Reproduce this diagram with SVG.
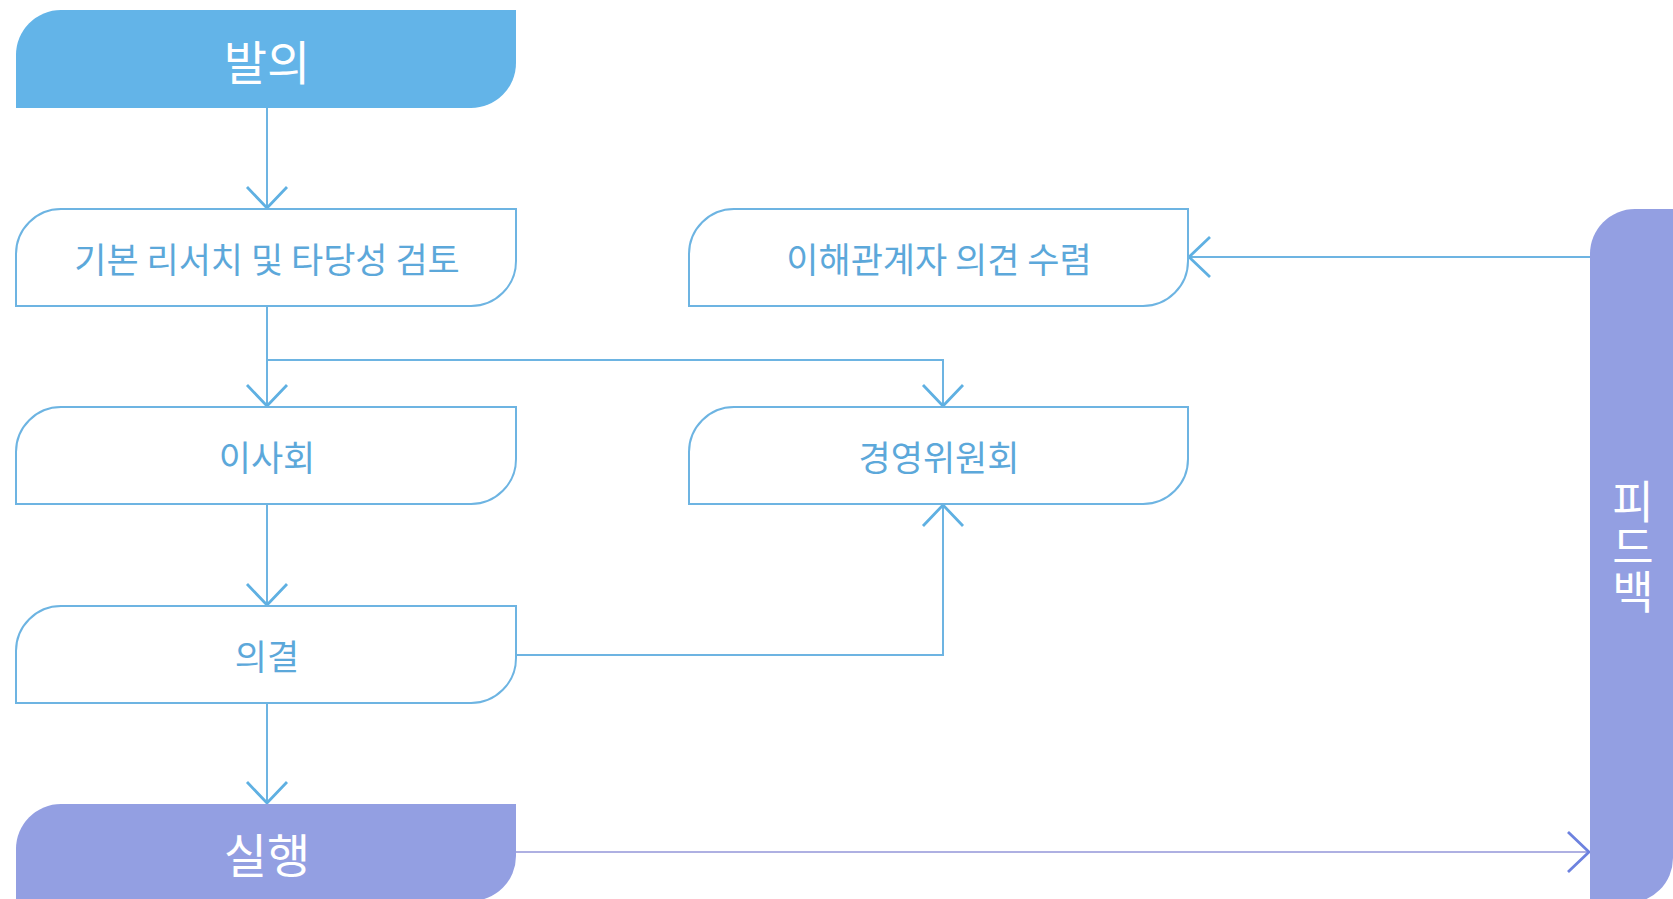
<svg xmlns="http://www.w3.org/2000/svg" width="1673" height="899" viewBox="0 0 1673 899">
  <style>
    .box { fill: #ffffff; stroke: #6db4e2; stroke-width: 2; }
    .blue { fill: #63b4e8; }
    .purple { fill: #939fe2; }
    .lbl { font-family: "Noto Sans CJK KR", "Noto Sans", sans-serif; font-size: 35px; fill: #5ca8da; text-anchor: middle; dominant-baseline: central; }
    .big { font-family: "Noto Sans CJK KR", "Noto Sans", sans-serif; font-size: 47px; fill: #ffffff; text-anchor: middle; dominant-baseline: central; }
    .vert { font-family: "Noto Sans CJK KR", "Noto Sans", sans-serif; font-size: 45px; fill: #ffffff; text-anchor: middle; writing-mode: vertical-rl; text-orientation: upright; }
    .conn { fill: none; stroke: #6db4e2; stroke-width: 2; }
    .conn2 { fill: none; stroke: #aeb0e2; stroke-width: 2; }
  </style>
  <defs>
    <marker id="arr" markerUnits="userSpaceOnUse" markerWidth="26" markerHeight="46" viewBox="-24 -23 26 46" refX="0" refY="0" orient="auto">
      <path d="M-21,-20 L0,0 L-21,20" fill="none" stroke="#5fb0e2" stroke-width="2.8"/>
    </marker>
    <marker id="arrP" markerUnits="userSpaceOnUse" markerWidth="26" markerHeight="46" viewBox="-24 -23 26 46" refX="0" refY="0" orient="auto">
      <path d="M-21,-20 L0,0 L-21,20" fill="none" stroke="#6d82df" stroke-width="2.8"/>
    </marker>
  </defs>
  <rect width="1673" height="899" fill="#ffffff"/>

  <g id="connectors">
    <path class="conn" d="M267,108 V208" marker-end="url(#arr)"/>
    <path class="conn" d="M267,306 V406" marker-end="url(#arr)"/>
    <path class="conn" d="M267,360 H943 V406" marker-end="url(#arr)"/>
    <path class="conn" d="M267,504 V605" marker-end="url(#arr)"/>
    <path class="conn" d="M267,703 V803" marker-end="url(#arr)"/>
    <path class="conn" d="M516,655 H943 V505" marker-end="url(#arr)"/>
    <path class="conn" d="M1590,257 H1189" marker-end="url(#arr)"/>
    <path class="conn2" d="M516,852 H1589" marker-end="url(#arrP)"/>
  </g>

  <g id="node-proposal">
    <path class="blue" d="M61,10 H516 V63 A45 45 0 0 1 471,108 H16 V55 A45 45 0 0 1 61,10 Z"/>
    <text class="big" x="267" y="59">발의</text>
  </g>
  <g id="node-research">
    <path class="box" d="M61,209 H516 V261 A45 45 0 0 1 471,306 H16 V254 A45 45 0 0 1 61,209 Z"/>
    <text class="lbl" x="267" y="257">기본 리서치 및 타당성 검토</text>
  </g>
  <g id="node-board">
    <path class="box" d="M61,407 H516 V459 A45 45 0 0 1 471,504 H16 V452 A45 45 0 0 1 61,407 Z"/>
    <text class="lbl" x="267" y="455">이사회</text>
  </g>
  <g id="node-resolution">
    <path class="box" d="M61,606 H516 V658 A45 45 0 0 1 471,703 H16 V651 A45 45 0 0 1 61,606 Z"/>
    <text class="lbl" x="267" y="654">의결</text>
  </g>
  <g id="node-execution">
    <path class="purple" d="M61,804 H516 V856 A45 45 0 0 1 471,901 H16 V849 A45 45 0 0 1 61,804 Z"/>
    <text class="big" x="267" y="852">실행</text>
  </g>
  <g id="node-stakeholders">
    <path class="box" d="M734,209 H1188 V261 A45 45 0 0 1 1143,306 H689 V254 A45 45 0 0 1 734,209 Z"/>
    <text class="lbl" x="939" y="257">이해관계자 의견 수렴</text>
  </g>
  <g id="node-committee">
    <path class="box" d="M734,407 H1188 V459 A45 45 0 0 1 1143,504 H689 V452 A45 45 0 0 1 734,407 Z"/>
    <text class="lbl" x="939" y="455">경영위원회</text>
  </g>
  <g id="node-feedback">
    <path class="purple" d="M1635,209 H1673 V858 A45 45 0 0 1 1628,903 H1590 V254 A45 45 0 0 1 1635,209 Z"/>
    <text class="vert" x="1633" y="547">피드백</text>
  </g>
</svg>
